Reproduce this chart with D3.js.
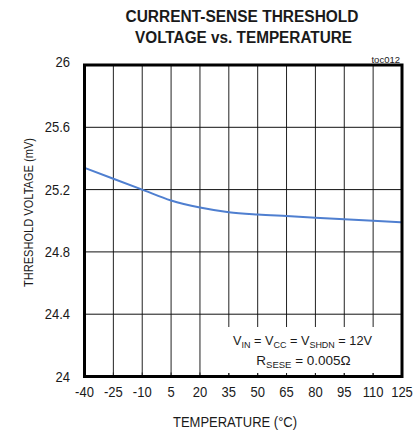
<!DOCTYPE html>
<html><head><meta charset="utf-8">
<script src="https://cdn.jsdelivr.net/npm/d3@7"></script>
<style>
html,body{margin:0;padding:0;background:#fff;}
text{font-family:"Liberation Sans",Arial,sans-serif;fill:#1a1a1a;}
</style></head>
<body><svg id="c" width="415" height="432"></svg>
<script>
const temps = [-40,-25,-10,5,20,35,50,65,80,95,110,125];
const voltage = [25.34,25.27,25.20,25.13,25.085,25.055,25.04,25.03,25.02,25.01,25.00,24.99];
const xTicks = [-40,-25,-10,5,20,35,50,65,80,95,110,125];
const yTicks = [24,24.4,24.8,25.2,25.6,26];
const yTickLabels = ["24","24.4","24.8","25.2","25.6","26"];

const svg = d3.select("#c");
const x = d3.scaleLinear().domain([-40,125]).range([84.5,402]);
const y = d3.scaleLinear().domain([24,26]).range([376.5,65]);

// condense: measure at base size, then enlarge with same length
function condense(sel, base, big){
  sel.attr("font-size",base).each(function(){
    const w = this.getComputedTextLength();
    d3.select(this).attr("font-size",big).attr("textLength",w).attr("lengthAdjust","spacingAndGlyphs");
  });
}

// title
svg.append("text").attr("x",242).attr("y",21.5).attr("text-anchor","middle")
  .attr("font-size",16).attr("font-weight","bold").attr("textLength",233).attr("lengthAdjust","spacingAndGlyphs")
  .text("CURRENT-SENSE THRESHOLD");
svg.append("text").attr("x",243.5).attr("y",43).attr("text-anchor","middle")
  .attr("font-size",16).attr("font-weight","bold").attr("textLength",217).attr("lengthAdjust","spacingAndGlyphs")
  .text("VOLTAGE vs. TEMPERATURE");
svg.append("text").attr("x",400).attr("y",63).attr("text-anchor","end")
  .attr("font-size",9.5).text("toc012");

// grid
const g = svg.append("g");
g.selectAll(".vg").data(xTicks.slice(1,-1)).enter().append("line")
  .attr("x1",d=>x(d)).attr("x2",d=>x(d)).attr("y1",y(26)).attr("y2",y(24))
  .attr("stroke","#222").attr("stroke-width",1);
g.selectAll(".hg").data(yTicks.slice(1,-1)).enter().append("line")
  .attr("y1",d=>y(d)).attr("y2",d=>y(d)).attr("x1",x(-40)).attr("x2",x(125))
  .attr("stroke","#111").attr("stroke-width",1);

// curve
const line = d3.line().x(d=>x(d[0])).y(d=>y(d[1])).curve(d3.curveMonotoneX);
svg.append("path").datum(temps.map((t,i)=>[t,voltage[i]]))
  .attr("d",line).attr("fill","none").attr("stroke","#4f7fd0").attr("stroke-width",2);

// annotation box
svg.append("rect").attr("x",216).attr("y",327).attr("width",185).attr("height",46).attr("fill","#fff");
// small bottom ticks
g.selectAll(".bt").data(xTicks.slice(1,-1)).enter().append("line")
  .attr("x1",d=>x(d)).attr("x2",d=>x(d)).attr("y1",y(24)-4).attr("y2",y(24))
  .attr("stroke","#222").attr("stroke-width",1);

const a1 = svg.append("text").attr("x",302.5).attr("y",345).attr("text-anchor","middle").attr("font-size",13.5);
const parts1 = [["V",0],["IN",1],[" = V",0],["CC",1],[" = V",0],["SHDN",1],[" = 12V",0]];
parts1.forEach((p,i)=>{
  const t = a1.append("tspan").text(p[0]);
  const prevSub = i>0 ? parts1[i-1][1] : 0;
  if(p[1]) t.attr("font-size",9.5);
  t.attr("dy", p[1] && !prevSub ? 3 : (!p[1] && prevSub ? -3 : 0));
});
a1.attr("textLength",139).attr("lengthAdjust","spacingAndGlyphs");
const a2 = svg.append("text").attr("x",303.5).attr("y",365).attr("text-anchor","middle").attr("font-size",13.5);
a2.append("tspan").text("R");
a2.append("tspan").text("SESE").attr("font-size",9.5).attr("dy",3);
a2.append("tspan").text(" = 0.005Ω").attr("dy",-3);

// frame
svg.append("rect").attr("x",x(-40)).attr("y",y(26)).attr("width",x(125)-x(-40)).attr("height",y(24)-y(26))
  .attr("fill","none").attr("stroke","#000").attr("stroke-width",3);

// y tick labels
const yl = svg.selectAll(".yl").data(yTicks).enter().append("text")
  .attr("x",70).attr("y",d=>y(d) - (d===26?3:0)).attr("dy","0.36em").attr("text-anchor","end")
  .text((d,i)=>yTickLabels[i]);
condense(yl,13,14);
// x tick labels
const xl = svg.selectAll(".xl").data(xTicks).enter().append("text")
  .attr("x",d=>x(d)).attr("y",397).attr("text-anchor","middle")
  .text(d=>String(d));
condense(xl,13,14);

// axis titles
const xt = svg.append("text").attr("x",235).attr("y",426.5).attr("text-anchor","middle")
  .text("TEMPERATURE (°C)");
condense(xt,13,14);
svg.append("text").attr("transform","translate(32.5,212.5) rotate(-90)").attr("text-anchor","middle")
  .attr("font-size",13.5).attr("textLength",149).attr("lengthAdjust","spacingAndGlyphs")
  .text("THRESHOLD VOLTAGE (mV)");
</script></body></html>
